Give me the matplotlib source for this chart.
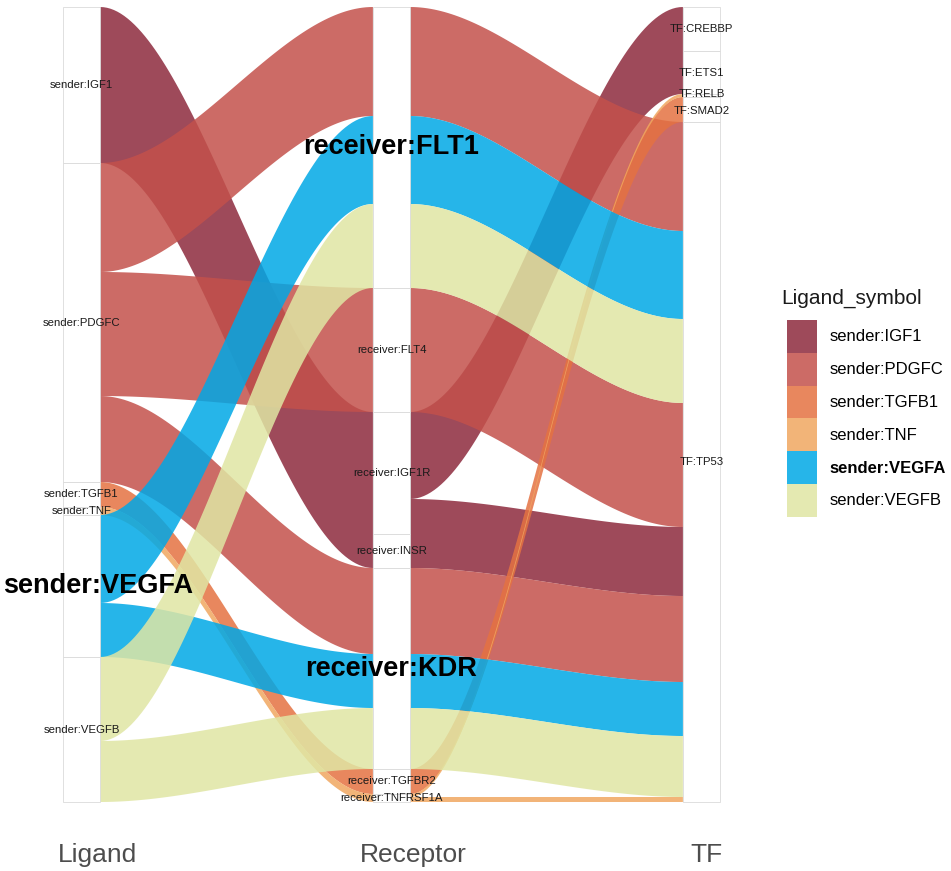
import numpy as np
import matplotlib
matplotlib.use("Agg")
import matplotlib.pyplot as plt
from matplotlib.patches import Rectangle, Patch, PathPatch
from matplotlib.path import Path

plt.rcParams['font.family'] = ['Liberation Sans', 'DejaVu Sans']

# strata (top to bottom on each axis)
ligand_levels = ['IGF1', 'PDGFC', 'TGFB1', 'TNF', 'VEGFA', 'VEGFB']
receptor_levels = ['FLT1', 'FLT4', 'IGF1R', 'INSR', 'KDR', 'TGFBR2', 'TNFRSF1A']
tf_levels = ['CREBBP', 'ETS1', 'RELB', 'SMAD2', 'TP53']

# one entry per alluvium
ligand = ['IGF1', 'IGF1', 'IGF1', 'IGF1',
          'PDGFC', 'PDGFC', 'PDGFC',
          'TGFB1',
          'TNF', 'TNF',
          'VEGFA', 'VEGFA',
          'VEGFB', 'VEGFB']
receptor = ['IGF1R', 'IGF1R', 'IGF1R', 'INSR',
            'FLT1', 'FLT4', 'KDR',
            'TGFBR2',
            'TNFRSF1A', 'TNFRSF1A',
            'FLT1', 'KDR',
            'FLT1', 'KDR']
tf = ['CREBBP', 'ETS1', 'TP53', 'TP53',
      'TP53', 'TP53', 'TP53',
      'SMAD2',
      'RELB', 'TP53',
      'TP53', 'TP53',
      'TP53', 'TP53']
freq = [44, 43, 35, 34,
        109, 124, 86,
        25,
        3, 5,
        88, 54,
        84, 61]

highlight = ['sender:VEGFA', 'receiver:FLT1', 'receiver:KDR']
axis_names = ['Ligand', 'Receptor', 'TF']
prefixes = ['sender:', 'receiver:', 'TF:']

fill_colors = {'IGF1': '#8D2A3D', 'PDGFC': '#C3514B', 'TGFB1': '#E47242',
               'TNF': '#F0A760', 'VEGFA': '#00A8E6', 'VEGFB': '#E0E6A4'}
flow_alpha = 0.85
width = 0.12

axes_vals = [ligand, receptor, tf]
axes_levels = [ligand_levels, receptor_levels, tf_levels]
n = len(freq)


def stack(keys, sizes):
    order = sorted(keys, key=lambda k: keys[k])
    pos = {}
    cum = 0
    for k in order:
        pos[k] = cum
        cum += sizes[k]
    return pos


fig = plt.figure(figsize=(9.51, 8.71), dpi=100)
ax = fig.add_axes([35 / 951, (871 - 807) / 871, 728.5 / 951, 805 / 871])
ax.set_xlim(0.85, 3.2)
ax.set_ylim(800, -5)
ax.axis('off')

# flows between adjacent axes (alluvia sharing both strata and fill are merged)
t = np.linspace(0, 1, 80)
s = 3 * t ** 2 - 2 * t ** 3
for a in range(2):
    b = a + 1
    la, lb = axes_levels[a], axes_levels[b]
    sizes = {}
    for i in range(n):
        key = (axes_vals[a][i], axes_vals[b][i], ligand[i])
        sizes[key] = sizes.get(key, 0) + freq[i]
    left = stack({k: (la.index(k[0]), lb.index(k[1]), ligand_levels.index(k[2])) for k in sizes}, sizes)
    right = stack({k: (lb.index(k[1]), la.index(k[0]), ligand_levels.index(k[2])) for k in sizes}, sizes)
    x0 = (a + 1) + width / 2
    x1 = (b + 1) - width / 2
    xs = x0 + (x1 - x0) * t
    for lig in ligand_levels:
        verts, codes = [], []
        for k in sizes:
            if k[2] != lig:
                continue
            top = left[k] + (right[k] - left[k]) * s
            bot = top + sizes[k]
            poly = np.vstack([np.column_stack([xs, top]), np.column_stack([xs[::-1], bot[::-1]])])
            verts.extend(poly.tolist())
            verts.append(poly[0].tolist())
            codes.extend([Path.MOVETO] + [Path.LINETO] * (len(poly) - 1) + [Path.CLOSEPOLY])
        if verts:
            ax.add_patch(PathPatch(Path(verts, codes), facecolor=fill_colors[lig],
                                   alpha=flow_alpha, linewidth=0, zorder=2))

# strata and their labels
big_labels = []
for k in range(3):
    totals = [sum(f for v, f in zip(axes_vals[k], freq) if v == lv) for lv in axes_levels[k]]
    tops = np.concatenate([[0], np.cumsum(totals)[:-1]])
    centers = tops + np.array(totals) / 2
    for lv, y0, h in zip(axes_levels[k], tops, totals):
        ax.add_patch(Rectangle((k + 1 - width / 2, y0), width, h, facecolor='white',
                               edgecolor='#DADADA', linewidth=0.6, zorder=3))
    # simple repel of neighbouring small labels
    ys = centers.copy()
    for _ in range(20):
        for j in range(1, len(ys)):
            d = ys[j] - ys[j - 1]
            if d < 17:
                ys[j - 1] -= (17 - d) / 2
                ys[j] += (17 - d) / 2
    for j, lv in enumerate(axes_levels[k]):
        name = prefixes[k] + lv
        if name in highlight:
            big_labels.append(ax.text(k + 1, centers[j], name, ha='center', va='center',
                                      fontsize=19.5, fontweight='bold', color='black', zorder=5))
        else:
            ax.text(k + 1, ys[j], name, ha='center', va='center',
                    fontsize=8.2, color='#1A1A1A', zorder=5)

# keep big labels inside the panel
fig.canvas.draw()
renderer = fig.canvas.get_renderer()
for txt in big_labels:
    bb = txt.get_window_extent(renderer)
    if bb.x0 < 3:
        shift = 3 - bb.x0
        xd, yd = ax.transData.transform(txt.get_position())
        txt.set_position(ax.transData.inverted().transform((xd + shift, yd)))

# axis names
name_nudge = [0.053, 0.069, 0.016]
for k, nm in enumerate(axis_names):
    ax.text(k + 1 + name_nudge[k], -0.06, nm, transform=ax.get_xaxis_transform(),
            ha='center', va='center', fontsize=19, color='#4D4D4D')

# legend
fig.text(781 / 951, 1 - 298 / 871, 'Ligand_symbol', ha='left', va='center',
         fontsize=15, color='#1A1A1A')
handles = [Patch(facecolor=fill_colors[lv], alpha=flow_alpha, linewidth=0) for lv in ligand_levels]
leg = fig.legend(handles, ['sender:' + lv for lv in ligand_levels],
                 loc='upper left', bbox_to_anchor=(787 / 951, 1 - 320 / 871),
                 frameon=False, fontsize=12, borderpad=0,
                 handlelength=1.8, handleheight=2.65, labelspacing=0,
                 handletextpad=0.75, borderaxespad=0)
for txt in leg.get_texts():
    if txt.get_text() in highlight:
        txt.set_fontweight('bold')

fig.savefig('out.png', dpi=100)
